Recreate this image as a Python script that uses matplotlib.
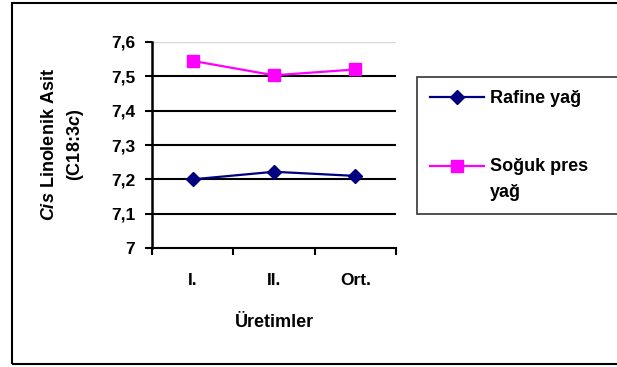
import matplotlib
matplotlib.use("Agg")
import matplotlib.pyplot as plt
from matplotlib.patches import Rectangle

plt.rcParams['font.family'] = ['Liberation Sans', 'DejaVu Sans']
plt.rcParams['font.weight'] = 'bold'
plt.rcParams['mathtext.fontset'] = 'custom'
plt.rcParams['mathtext.it'] = 'Liberation Sans:italic:bold'
plt.rcParams['mathtext.rm'] = 'Liberation Sans:bold'

categories = ['I.', 'II.', 'Ort.']
rafine = [7.20, 7.222, 7.21]
soguk = [7.545, 7.503, 7.52]
y_ticks = [7.0, 7.1, 7.2, 7.3, 7.4, 7.5, 7.6]
y_labels = ['7', '7,1', '7,2', '7,3', '7,4', '7,5', '7,6']

fig = plt.figure(figsize=(6.17, 3.67), dpi=100)
# outer frame
fig.patches.append(Rectangle((12/617, 3/367), 1.0, 361/367, transform=fig.transFigure,
                             fill=False, edgecolor='black', linewidth=1.5, clip_on=False))

ax = fig.add_axes([152/617, 1 - 248/367, 244/617, 206/367])
x = range(len(categories))
ax.plot(x, rafine, color='#000080', marker='D', markersize=7.5, linewidth=1.6,
        label='Rafine yağ')
ax.plot(x, soguk, color='#FF00FF', marker='s', markersize=8, linewidth=1.6,
        label='Soğuk pres\nyağ')

ax.set_xlim(-0.5, 2.5)
ax.set_ylim(7.0, 7.6)
ax.set_yticks(y_ticks)
ax.set_yticklabels(y_labels, fontsize=12.5, fontweight='bold')
ax.set_xticks(list(x))
ax.set_xticklabels(categories, fontsize=12.5, fontweight='bold')
ax.set_xticks([-0.5, 0.5, 1.5, 2.5], minor=True)
ax.tick_params(axis='x', which='major', length=0, pad=18)
ax.tick_params(axis='x', which='minor', length=5, width=1.5, direction='out')
ax.tick_params(axis='y', length=5, width=1.5, direction='out', pad=7)

for yv in y_ticks[1:-1]:
    ax.axhline(yv, color='black', linewidth=1.5, zorder=0)
ax.axhline(7.6, color='#d8d8d8', linewidth=1.0, zorder=0)

for s in ['top', 'right']:
    ax.spines[s].set_visible(False)
ax.spines['left'].set_linewidth(1.8)
ax.spines['bottom'].set_linewidth(1.5)

ax.set_xlabel('Üretimler', fontsize=13, fontweight='bold', labelpad=19)
ax.set_ylabel(r'$\it{Cis}$ Linolenik Asit' + '\n' + r'(C18:3$\it{c}$)', fontsize=13,
              fontweight='bold', labelpad=18, linespacing=1.5)

# legend runs off the right edge like the original
leg = fig.legend(loc='upper left', bbox_to_anchor=(417/617, 0, 215/617, 1 - 77/367),
                 mode='expand', borderaxespad=0, frameon=True, fancybox=False,
                 edgecolor='black', handlelength=3.0, handleheight=1.1, labelspacing=2.85,
                 borderpad=0.7, handletextpad=0.35, prop={'weight': 'bold', 'size': 13})
leg.get_frame().set_linewidth(1.2)
leg.get_texts()[1].set_linespacing(1.65)
# put the handle level with the first line of a two-line label
for col in leg._legend_handle_box.get_children():
    for row in col.get_children():
        row.align = 'top'

fig.savefig('out.png', dpi=100)
